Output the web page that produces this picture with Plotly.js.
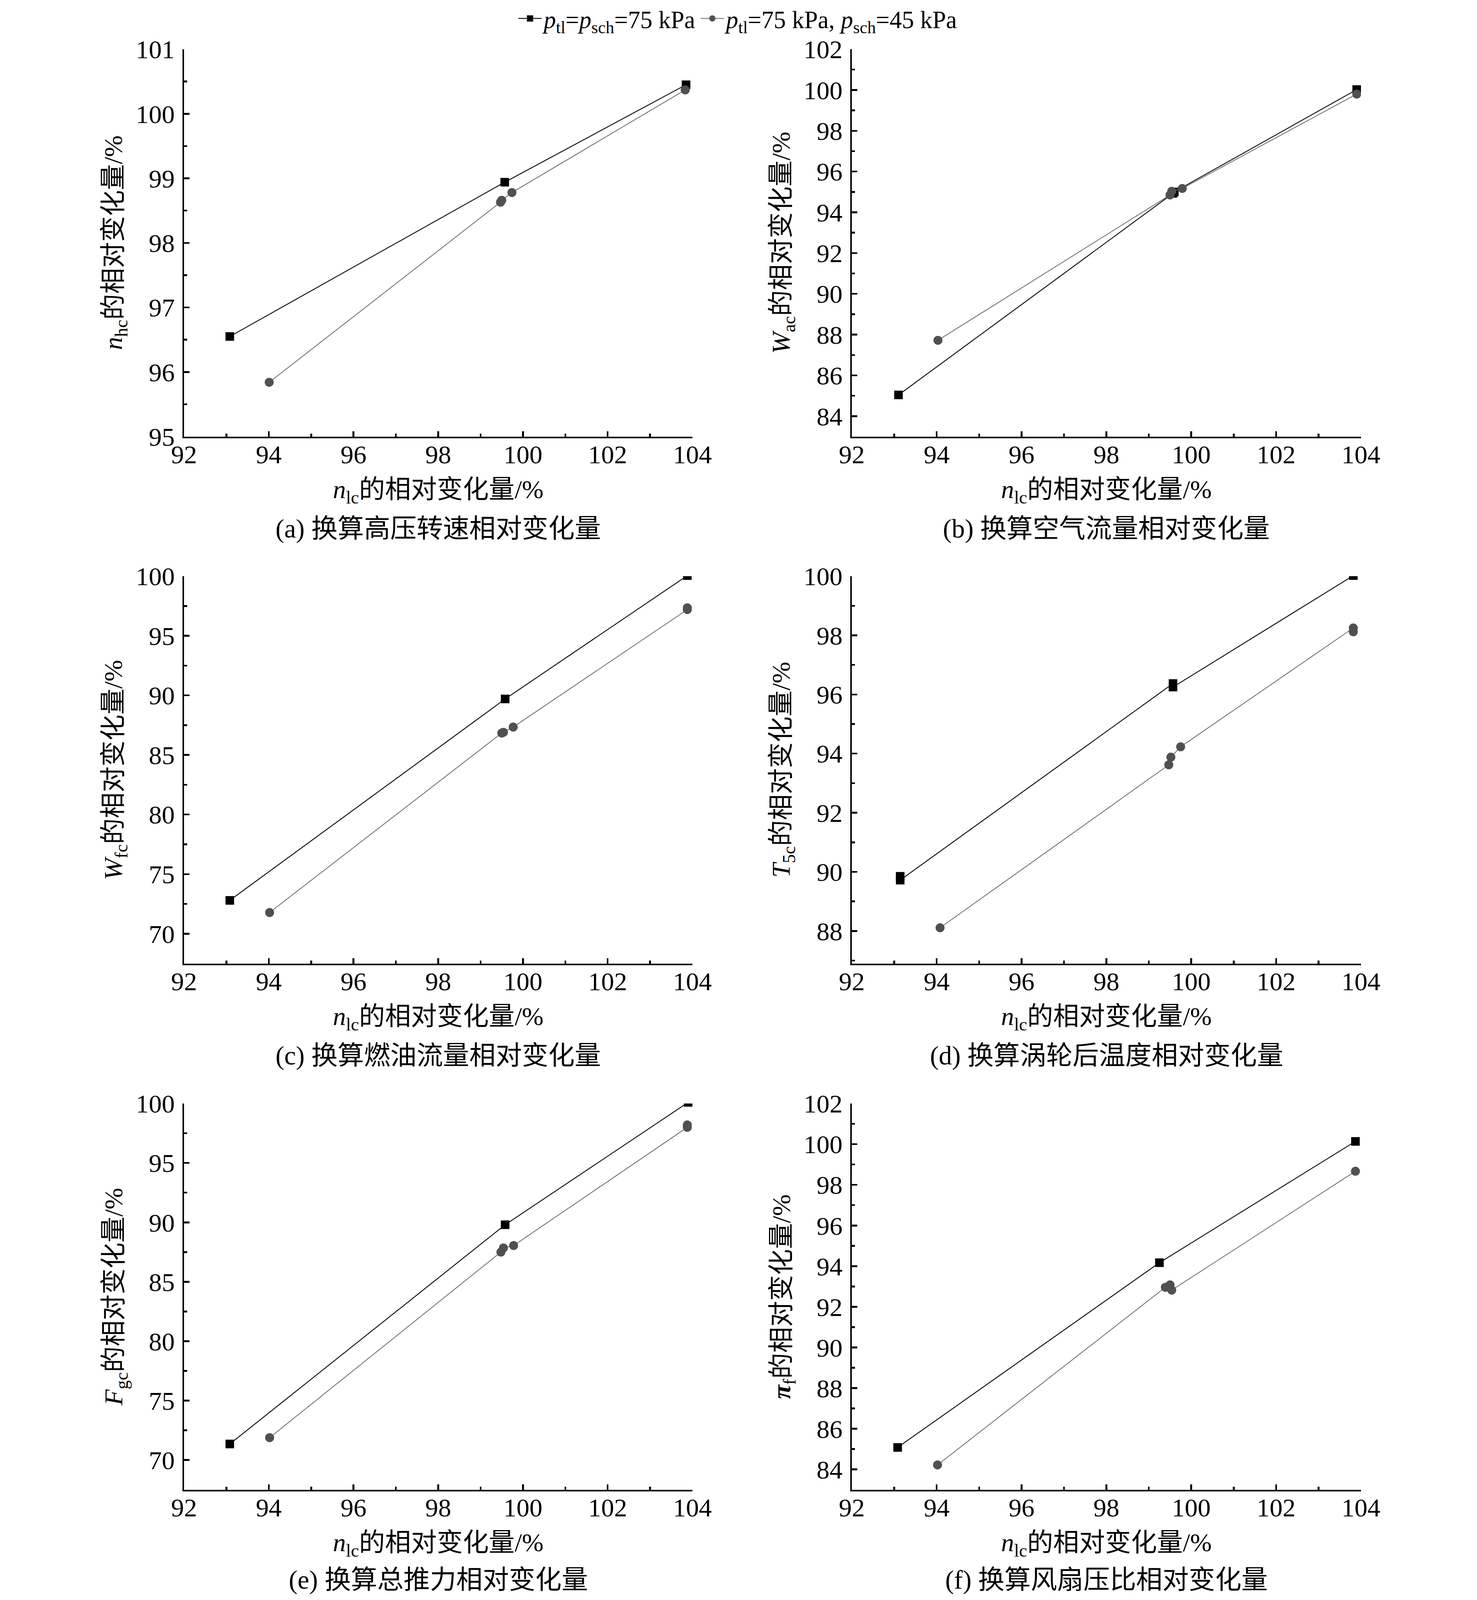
<!DOCTYPE html>
<html>
<head>
<meta charset="utf-8">
<script src="https://cdn.plot.ly/plotly-3.0.1.min.js"></script>
<style>
  html, body { margin: 0; padding: 0; background: #fff; overflow: hidden; }
</style>
</head>
<body>
<div id="chart"></div>
<script>
// series names
var seriesNames = [
  "<i>p</i><sub>tl</sub>=<i>p</i><sub>sch</sub>=75 kPa",
  "<i>p</i><sub>tl</sub>=75 kPa, <i>p</i><sub>sch</sub>=45 kPa"
];

// (a) high pressure speed
var xBlackA = [93.08, 99.57, 103.85];
var yBlackA = [96.55, 98.94, 100.45];
var xGreyA = [94.01, 99.47, 99.50, 99.74, 103.83];
var yGreyA = [95.84, 98.63, 98.66, 98.78, 100.37];

// (b) air flow
var xBlackB = [93.10, 99.57, 99.60, 103.90];
var yBlackB = [85.04, 94.93, 95.00, 100.02];
var xGreyB = [94.03, 99.50, 99.54, 99.79, 103.90];
var yGreyB = [87.72, 94.85, 95.03, 95.17, 99.80];

// (c) fuel flow
var xBlackC = [93.08, 99.58, 103.88];
var yBlackC = [72.80, 89.70, 100.05];
var xGreyC = [94.02, 99.50, 99.54, 99.77, 103.88, 103.88];
var yGreyC = [71.78, 86.84, 86.90, 87.34, 97.20, 97.35];

// (d) turbine exit temperature
var xBlackD = [93.14, 93.14, 99.57, 99.57, 103.82];
var yBlackD = [89.85, 89.72, 96.37, 96.25, 100.02];
var xGreyD = [94.08, 99.47, 99.52, 99.75, 103.82, 103.82];
var yGreyD = [88.11, 93.62, 93.88, 94.23, 98.25, 98.12];

// (e) gross thrust
var xBlackE = [93.08, 99.58, 103.90];
var yBlackE = [71.35, 89.80, 100.10];
var xGreyE = [94.02, 99.48, 99.54, 99.78, 103.88, 103.88];
var yGreyE = [71.88, 87.50, 87.85, 88.05, 98.00, 98.20];

// (f) fan pressure ratio
var xBlackF = [93.08, 99.25, 103.87];
var yBlackF = [85.08, 94.17, 100.14];
var xGreyF = [94.02, 99.39, 99.50, 99.54, 103.87];
var yGreyF = [84.22, 92.96, 93.08, 92.82, 98.67];

var yTitles = [
  "<i>n</i><sub>hc</sub>的相对变化量/%",
  "<i>W</i><sub>ac</sub>的相对变化量/%",
  "<i>W</i><sub>fc</sub>的相对变化量/%",
  "<i>T</i><sub>5c</sub>的相对变化量/%",
  "<i>F</i><sub>gc</sub>的相对变化量/%",
  "<b><i>π</i></b><sub>f</sub>的相对变化量/%"
];
var xTitle = "<i>n</i><sub>lc</sub>的相对变化量/%";
var subTitles = [
  "(a) 换算高压转速相对变化量",
  "(b) 换算空气流量相对变化量",
  "(c) 换算燃油流量相对变化量",
  "(d) 换算涡轮后温度相对变化量",
  "(e) 换算总推力相对变化量",
  "(f) 换算风扇压比相对变化量"
];

var blackX = [xBlackA, xBlackB, xBlackC, xBlackD, xBlackE, xBlackF];
var blackY = [yBlackA, yBlackB, yBlackC, yBlackD, yBlackE, yBlackF];
var greyX = [xGreyA, xGreyB, xGreyC, xGreyD, xGreyE, xGreyF];
var greyY = [yGreyA, yGreyB, yGreyC, yGreyD, yGreyE, yGreyF];

// axis setup per panel: [min, max, major, minor]
var yAxes = [
  [95, 101, 1, 0.5],
  [83, 102, 2, 1],
  [67.5, 100, 5, 2.5],
  [86.9, 100, 2, 1],
  [67.5, 100, 5, 2.5],
  [83, 102, 2, 1]
];

// layout measured on a 3780 x 4193 sheet, fitted to the real viewport
var REF_W = 3780, REF_H = 4193;
var W = window.innerWidth || REF_W;
var H = window.innerHeight || REF_H;
var sy = H / REF_H, sx = W / REF_W;
var fs = Math.min(sx, sy);
var cols = [[471, 1772], [2180, 3483]];
var rows = [[129, 1144], [1510, 2525], [2892, 3904]];
// offsets below each row's x axis: [x title, caption]
var rowText = [[143, 242], [143, 242], [143, 236]];
var FONT = "Liberation Serif, Times New Roman, Noto Sans CJK SC, serif";

var chartDiv = document.getElementById("chart");
chartDiv.style.width = W + "px";
chartDiv.style.height = H + "px";

var data = [];
var layout = {
  width: W,
  height: H,
  margin: { t: 0, r: 0, l: 0, b: 0, autoexpand: false },
  paper_bgcolor: "white",
  plot_bgcolor: "white",
  font: { family: FONT, color: "black", size: 68 * fs },
  showlegend: true,
  legend: {
    orientation: "h",
    x: 0.5, xanchor: "center",
    y: 1, yanchor: "top",
    font: { size: 64 * fs, family: FONT },
    itemwidth: 60,
    bgcolor: "rgba(0,0,0,0)"
  },
  annotations: []
};

for (var i = 0; i < 6; i++) {
  var row = Math.floor(i / 2);
  var c = cols[i % 2], r = rows[row];
  var n = i === 0 ? "" : String(i + 1);
  var xa = "x" + n, ya = "y" + n;

  data.push({
    type: "scatter", mode: "lines+markers",
    x: blackX[i], y: blackY[i], xaxis: xa, yaxis: ya,
    name: seriesNames[0], legendgroup: "s1", showlegend: i === 0,
    line: { color: "black", width: 2.2 },
    marker: { symbol: "square", size: 22, color: "black" }
  });
  data.push({
    type: "scatter", mode: "lines+markers",
    x: greyX[i], y: greyY[i], xaxis: xa, yaxis: ya,
    name: seriesNames[1], legendgroup: "s2", showlegend: i === 0,
    line: { color: "#6a6a6a", width: 2 },
    marker: { symbol: "circle", size: 23, color: "#505050" }
  });

  var ax = yAxes[i];
  layout["xaxis" + n] = {
    domain: [c[0] / REF_W, c[1] / REF_W],
    anchor: ya,
    range: [92, 104],
    tick0: 92, dtick: 2,
    ticks: "inside", ticklen: 14, tickwidth: 4.5, tickcolor: "black",
    minor: { ticks: "inside", ticklen: 8, tickwidth: 4.5, dtick: 1, tickcolor: "black" },
    showline: true, linewidth: 4.5, linecolor: "black",
    showgrid: false, zeroline: false,
    tickfont: { size: 68 * fs, family: FONT, color: "black" },
    ticklabelstandoff: -16
  };
  layout["yaxis" + n] = {
    domain: [1 - r[1] / REF_H, 1 - r[0] / REF_H],
    anchor: xa,
    range: [ax[0], ax[1]],
    tick0: 0, dtick: ax[2],
    ticks: "inside", ticklen: 14, tickwidth: 4.5, tickcolor: "black",
    minor: { ticks: "inside", ticklen: 8, tickwidth: 4.5, dtick: ax[3], tickcolor: "black" },
    showline: true, linewidth: 4.5, linecolor: "black",
    showgrid: false, zeroline: false,
    tickfont: { size: 68 * fs, family: FONT, color: "black" },
    ticklabelstandoff: 6
  };

  var cx = (c[0] + c[1]) / 2 / REF_W;
  layout.annotations.push({
    xref: "paper", yref: "paper", x: cx, y: 1 - (r[1] + rowText[row][0]) / REF_H,
    xanchor: "center", yanchor: "middle", showarrow: false,
    text: xTitle, font: { size: 68 * fs, family: FONT, color: "black" }
  });
  layout.annotations.push({
    xref: "paper", yref: "paper", x: cx, y: 1 - (r[1] + rowText[row][1]) / REF_H,
    xanchor: "center", yanchor: "middle", showarrow: false,
    text: subTitles[i], font: { size: 69 * fs, family: FONT, color: "black" }
  });
  layout.annotations.push({
    xref: "paper", yref: "paper", x: (c[0] - 176) / REF_W, y: 1 - (r[0] + r[1]) / 2 / REF_H,
    xanchor: "center", yanchor: "middle", showarrow: false, textangle: -90,
    text: yTitles[i], font: { size: 68 * fs, family: FONT, color: "black" }
  });
}

Plotly.newPlot("chart", data, layout, { displayModeBar: false, staticPlot: true });
</script>
</body>
</html>
